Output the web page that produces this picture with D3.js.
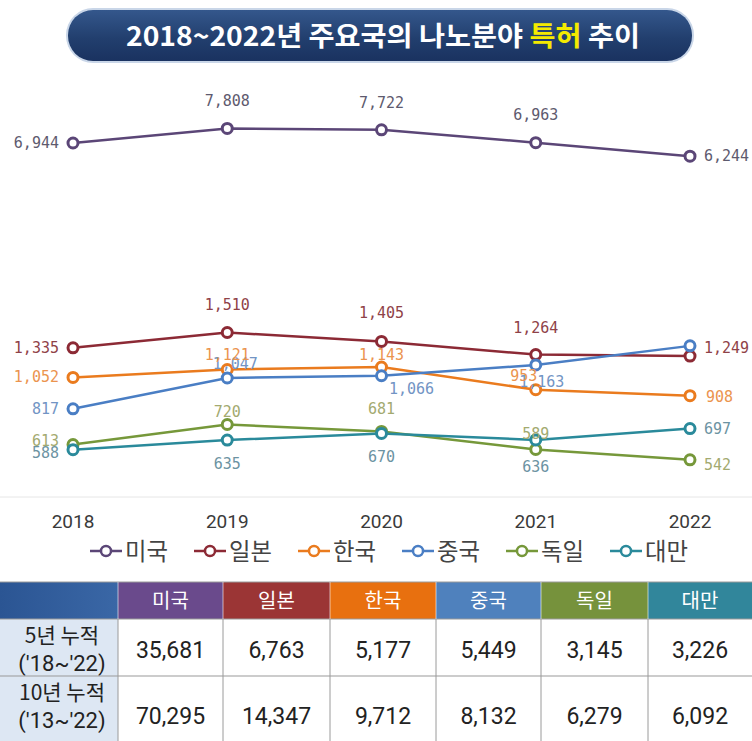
<!DOCTYPE html>
<html>
<head>
<meta charset="utf-8">
<script src="https://cdn.jsdelivr.net/npm/d3@7"></script>
<style>
  body { margin: 0; background: #fff; }
  svg { display: block; }
</style>
</head>
<body>
<svg id="chart" width="752" height="741"></svg>
<script>
// data
const years = ["2018", "2019", "2020", "2021", "2022"];
const countries = ["미국", "일본", "한국", "중국", "독일", "대만"];
const usa     = [6944, 7808, 7722, 6963, 6244];
const japan   = [1335, 1510, 1405, 1264, 1249];
const korea   = [1052, 1121, 1143, 953, 908];
const china   = [817, 1047, 1066, 1163, 1356];
const germany = [613, 720, 681, 589, 542];
const taiwan  = [588, 635, 670, 636, 697];
const rowLabels = [["5년 누적", "('18~'22)"], ["10년 누적", "('13~'22)"]];
const total5  = [35681, 6763, 5177, 5449, 3145, 3226];
const total10 = [70295, 14347, 9712, 8132, 6279, 6092];

// styling
const lineColors  = ["#5b4677", "#8c2a35", "#ea7b1e", "#4a7ec4", "#76983a", "#2a8a9b"];
const labelColors = ["#5e5a6e", "#8f4248", "#eb944f", "#7294c4", "#a3aa70", "#6c93a2"];
const headColors  = ["#6a4a8c", "#9b3535", "#e8700f", "#4f81bd", "#76923c", "#31869b"];

// label offsets per point: [dx, dy, anchor]
const labelPos = [
  [[-14, 0, "end"], [0, -27, "middle"], [0, -27, "middle"], [0, -28, "middle"], [14, 0, "start"]],
  [[-14, 0, "end"], [0, -28, "middle"], [0, -28, "middle"], [0, -27, "middle"], [14, -8, "start"]],
  [[-14, 0, "end"], [0, -15, "middle"], [0, -12, "middle"], [-12, -14, "middle"], [16, 1, "start"]],
  [[-14, 0, "end"], [8, -14, "middle"], [30, 13, "middle"], [6, 17, "middle"], [14, 4, "start"]],
  [[-14, -3, "end"], [0, -13, "middle"], [0, -22, "middle"], [0, -15, "middle"], [14, 5, "start"]],
  [[-14, 3, "end"], [0, 24, "middle"], [0, 24, "middle"], [0, 27, "middle"], [14, 0, "start"]]
];

const seriesValues = [usa, japan, korea, china, germany, taiwan];
const series = countries.map((c, i) => ({
  name: c, values: seriesValues[i], color: lineColors[i], labelColor: labelColors[i], pos: labelPos[i]
}));

const svg = d3.select("#chart");
const fmt = d3.format(",");
const KR = "'Noto Sans CJK KR', 'Noto Sans', sans-serif";

// ---- title pill
const defs = svg.append("defs");
const tg = defs.append("linearGradient").attr("id", "titleGrad").attr("x1", 0).attr("y1", 0).attr("x2", 0).attr("y2", 1);
tg.append("stop").attr("offset", "0%").attr("stop-color", "#34578c");
tg.append("stop").attr("offset", "55%").attr("stop-color", "#223f6e");
tg.append("stop").attr("offset", "100%").attr("stop-color", "#1a3260");

svg.append("rect")
  .attr("x", 66).attr("y", 8).attr("width", 628).attr("height", 55).attr("rx", 27)
  .attr("fill", "#c9d6e8");
svg.append("rect")
  .attr("x", 68).attr("y", 10).attr("width", 624).attr("height", 51).attr("rx", 25)
  .attr("fill", "url(#titleGrad)");

const title = svg.append("text")
  .attr("x", 383).attr("y", 46)
  .attr("text-anchor", "middle")
  .attr("textLength", 514).attr("lengthAdjust", "spacingAndGlyphs")
  .style("font-family", KR).style("font-weight", "bold").style("font-size", "27px")
  .attr("fill", "#fff");
title.append("tspan").text("2018~2022년 주요국의 나노분야 ");
title.append("tspan").attr("fill", "#f4ea00").text("특허");
title.append("tspan").text(" 추이");

// ---- line chart
const x = d3.scalePoint().domain(years).range([73, 690]);
const y = d3.scaleLog().domain([500, 8000]).range([469.8, 125.4]);

svg.append("line")
  .attr("x1", 0).attr("x2", 752).attr("y1", 497).attr("y2", 497)
  .attr("stroke", "#e6e6e6").attr("stroke-width", 1);

const line = d3.line().x((d, i) => x(years[i])).y(d => y(d));

const gLines = svg.append("g");
series.forEach(s => {
  gLines.append("path")
    .datum(s.values)
    .attr("d", line)
    .attr("fill", "none")
    .attr("stroke", s.color)
    .attr("stroke-width", 2.5);
});
series.forEach(s => {
  gLines.selectAll(null)
    .data(s.values)
    .join("circle")
    .attr("cx", (d, i) => x(years[i]))
    .attr("cy", d => y(d))
    .attr("r", 5)
    .attr("fill", "#fff")
    .attr("stroke", s.color)
    .attr("stroke-width", 3);
});

// value labels (china first so japan's end label sits on top)
const labelOrder = [3, 0, 2, 4, 5, 1];
const gLabels = svg.append("g")
  .style("font-family", "'DejaVu Sans Mono', monospace")
  .style("font-size", "15px");
labelOrder.forEach(k => {
  const s = series[k];
  s.values.forEach((v, i) => {
    const p = s.pos[i];
    const lx = x(years[i]) + p[0];
    const ly = y(v) + p[1];
    if (k === 1 && i === 4) {
      gLabels.append("rect")
        .attr("x", lx - 2).attr("y", ly - 9).attr("width", 50).attr("height", 18)
        .attr("fill", "#fff");
    }
    gLabels.append("text")
      .attr("x", lx).attr("y", ly)
      .attr("text-anchor", p[2])
      .attr("dominant-baseline", "central")
      .attr("fill", s.labelColor)
      .text(fmt(v));
  });
});

// x axis year labels
svg.append("g")
  .selectAll("text")
  .data(years)
  .join("text")
  .attr("x", d => x(d))
  .attr("y", 528)
  .attr("text-anchor", "middle")
  .style("font-family", "Roboto, sans-serif")
  .style("font-size", "19px")
  .attr("fill", "#3a3a3a")
  .text(d => d);

// ---- legend
const legend = svg.append("g");
series.forEach((s, i) => {
  const lx = 90 + i * 104;
  const g = legend.append("g").attr("transform", `translate(${lx},551)`);
  g.append("line").attr("x1", 0).attr("x2", 32).attr("y1", 0).attr("y2", 0)
    .attr("stroke", s.color).attr("stroke-width", 2.5);
  g.append("circle").attr("cx", 16).attr("cy", 0).attr("r", 5)
    .attr("fill", "#fff").attr("stroke", s.color).attr("stroke-width", 2.5);
  g.append("text")
    .attr("x", 35).attr("y", 9)
    .attr("textLength", 43).attr("lengthAdjust", "spacingAndGlyphs")
    .style("font-family", KR).style("font-size", "24px")
    .attr("fill", "#444")
    .text(s.name);
});

// ---- table
const colX = [0, 118, 223, 330, 436, 541, 648, 752];
const rowY = [582, 619, 676, 760];

const hg = defs.append("linearGradient").attr("id", "headGrad").attr("x1", 0).attr("y1", 0).attr("x2", 1).attr("y2", 0);
hg.append("stop").attr("offset", "0%").attr("stop-color", "#2b5593");
hg.append("stop").attr("offset", "100%").attr("stop-color", "#3a67a6");

const table = svg.append("g");
table.append("rect")
  .attr("x", colX[0]).attr("y", rowY[0]).attr("width", colX[1] - colX[0]).attr("height", rowY[1] - rowY[0])
  .attr("fill", "url(#headGrad)");
countries.forEach((c, i) => {
  table.append("rect")
    .attr("x", colX[i + 1]).attr("y", rowY[0])
    .attr("width", colX[i + 2] - colX[i + 1]).attr("height", rowY[1] - rowY[0])
    .attr("fill", headColors[i]);
  table.append("text")
    .attr("x", (colX[i + 1] + colX[i + 2]) / 2).attr("y", (rowY[0] + rowY[1]) / 2 + 7)
    .attr("text-anchor", "middle")
    .style("font-family", KR).style("font-size", "20px")
    .attr("fill", "#fff")
    .text(c);
});

const totals = [total5, total10];
rowLabels.forEach((lab, r) => {
  const y0 = rowY[r + 1], y1 = rowY[r + 2];
  table.append("rect")
    .attr("x", colX[0]).attr("y", y0).attr("width", colX[1] - colX[0]).attr("height", y1 - y0)
    .attr("fill", "#dde7f3");
  table.append("text")
    .attr("x", (colX[0] + colX[1]) / 2 + 3).attr("y", y0 + 24)
    .attr("text-anchor", "middle")
    .style("font-family", KR).style("font-size", "21px")
    .attr("fill", "#222")
    .text(lab[0]);
  table.append("text")
    .attr("x", (colX[0] + colX[1]) / 2 + 3).attr("y", y0 + 52)
    .attr("text-anchor", "middle")
    .style("font-family", "Roboto, sans-serif").style("font-size", "22px")
    .attr("fill", "#222")
    .text(lab[1]);
  totals[r].forEach((v, i) => {
    table.append("text")
      .attr("x", (colX[i + 1] + colX[i + 2]) / 2).attr("y", r === 0 ? y0 + 39 : y0 + 48)
      .attr("text-anchor", "middle")
      .style("font-family", "Roboto, sans-serif").style("font-size", "23px")
      .attr("fill", "#222")
      .text(fmt(v));
  });
});

// grid lines
table.append("line")
  .attr("x1", 0).attr("x2", 752).attr("y1", rowY[0]).attr("y2", rowY[0])
  .attr("stroke", "#9a9a9a").attr("stroke-width", 1);
[rowY[1], rowY[2]].forEach(yy => {
  table.append("line")
    .attr("x1", 0).attr("x2", 752).attr("y1", yy).attr("y2", yy)
    .attr("stroke", "#9a9a9a").attr("stroke-width", 1.2);
});
colX.slice(1, -1).forEach(xx => {
  table.append("line")
    .attr("x1", xx).attr("x2", xx).attr("y1", rowY[1]).attr("y2", 741)
    .attr("stroke", "#9a9a9a").attr("stroke-width", 1);
  table.append("line")
    .attr("x1", xx).attr("x2", xx).attr("y1", rowY[0]).attr("y2", rowY[1])
    .attr("stroke", "#ffffff").attr("stroke-opacity", 0.6).attr("stroke-width", 1);
});
</script>
</body>
</html>
